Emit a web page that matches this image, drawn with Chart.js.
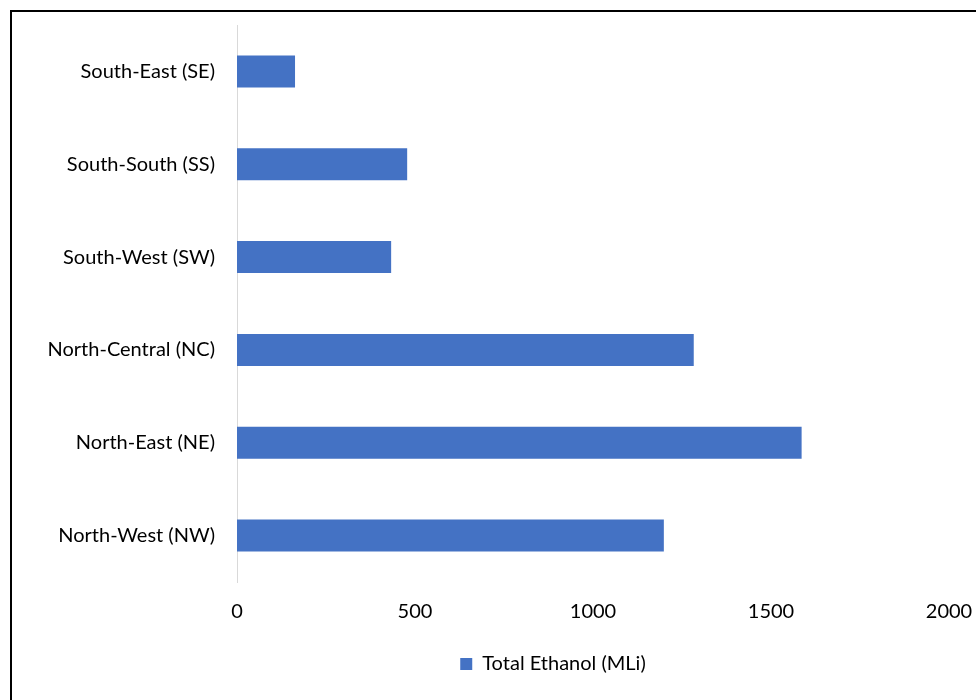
<!DOCTYPE html>
<html>
<head>
<meta charset="utf-8">
<script src="https://cdn.jsdelivr.net/npm/chart.js@4"></script>
<style>
  html, body { margin: 0; padding: 0; background: #fff; overflow: hidden; }
  #frame {
    position: absolute; left: 10px; top: 10px;
    width: 1082px; height: 700px;
    border: 2px solid #000;
  }
  #frame canvas { display: block; }
</style>
</head>
<body>
<div id="frame"><canvas id="ethanolChart" width="1082" height="688"></canvas></div>
<script>
const regions = ['South-East (SE)', 'South-South (SS)', 'South-West (SW)',
                 'North-Central (NC)', 'North-East (NE)', 'North-West (NW)'];
const totalEthanol = [163, 478, 433, 1283, 1586, 1199];
const xTicks = [0, 500, 1000, 1500, 2000];

const barColor = '#4472C4';
const textColor = '#000000';
const fontFamily = 'Lato, "Open Sans", sans-serif';

let ctx = document.getElementById('ethanolChart').getContext('2d');
window.ethanolChart = new Chart(ctx, {
    type: 'bar',
    data: {
        labels: regions,
        datasets: [{
            label: 'Total Ethanol (MLi)',
            data: totalEthanol,
            backgroundColor: barColor,
            borderWidth: 0,
            barPercentage: 0.345,
            categoryPercentage: 1
        }]
    },
    options: {
        indexAxis: 'y',
        responsive: false,
        animation: false,
        layout: { padding: { top: 13, right: 0, bottom: 16, left: 0 } },
        scales: {
            x: {
                min: 0,
                max: 2000,
                afterBuildTicks: scale => { scale.ticks = xTicks.map(v => ({ value: v })); },
                grid: { display: false, drawTicks: false },
                border: { display: false },
                ticks: {
                    color: textColor, padding: 18,
                    font: { family: fontFamily, size: 20 },
                    callback: v => String(v)
                }
            },
            y: {
                afterFit: scale => {
                    scale.width = 225;
                    // tick padding would otherwise push the plot down
                    scale.paddingTop = 0;
                    scale.paddingBottom = 0;
                },
                grid: { display: false, drawTicks: false },
                border: { display: true, color: '#d9d9d9', width: 1 },
                ticks: { color: textColor, padding: 22, font: { family: fontFamily, size: 20 } }
            },
            // empty spacer on the right so the plot stops at 2000 like the original
            spacer: {
                type: 'linear',
                position: 'right',
                afterFit: scale => { scale.width = 145; },
                grid: { display: false, drawTicks: false },
                border: { display: false },
                ticks: { display: false }
            }
        },
        plugins: {
            legend: {
                position: 'bottom',
                labels: {
                    color: textColor,
                    boxWidth: 12,
                    boxHeight: 12,
                    padding: 12,
                    font: { family: fontFamily, size: 20 }
                }
            },
            tooltip: { enabled: false }
        }
    }
});
</script>
</body>
</html>
